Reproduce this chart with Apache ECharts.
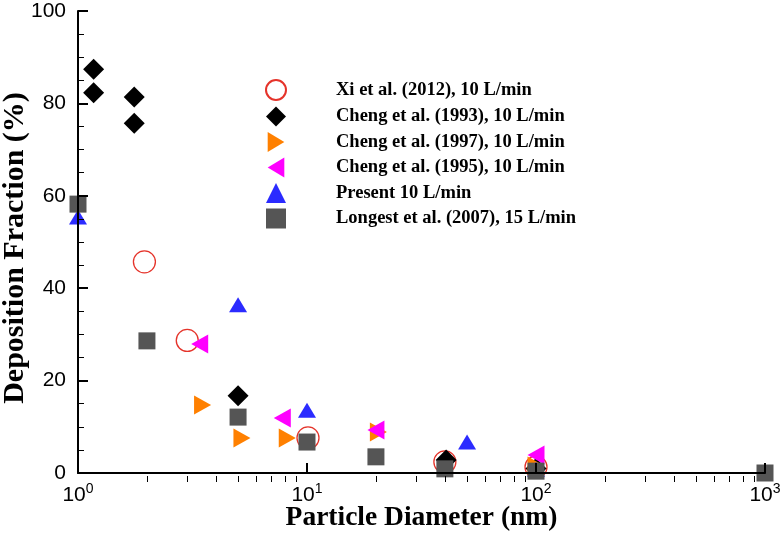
<!DOCTYPE html>
<html>
<head>
<meta charset="utf-8">
<script src="https://cdn.jsdelivr.net/npm/echarts@6/dist/echarts.min.js"></script>
<style>html,body{margin:0;padding:0;background:#fff;}#c{width:784px;height:534px;}</style>
</head>
<body>
<div id="c"></div>
<script>
// ---- data (particle diameter nm, deposition fraction %) ----
const xiX = [1.95, 3, 10.1, 40, 100];
const xiY = [45.7, 28.7, 7.6, 2.4, 1.3];
const cheng93X = [1.17, 1.17, 1.76, 1.76, 5, 40.5, 100];
const cheng93Y = [87.4, 82.3, 81.4, 75.7, 16.7, 2.8, 1.0];
const cheng97X = [3.5, 5.2, 8.2, 20.5, 100];
const cheng97Y = [14.7, 7.6, 7.6, 8.9, 1.5];
const cheng95X = [3.4, 7.8, 20, 100];
const cheng95Y = [27.9, 11.9, 9.3, 3.9];
const presentX = [1, 5, 10, 50, 100];
const presentY = [55.4, 36.4, 13.6, 6.7, 0.8];
const longestX = [1, 2, 5, 10, 20, 40, 100, 1000];
const longestY = [58.2, 28.6, 12.1, 6.7, 3.5, 0.9, 0.4, 0];

const seriesNames = [
  'Xi et al. (2012), 10 L/min',
  'Cheng et al. (1993), 10 L/min',
  'Cheng et al. (1997), 10 L/min',
  'Cheng et al. (1995), 10 L/min',
  'Present 10 L/min',
  'Longest et al. (2007), 15 L/min'
];
const xMinorTicks = [2,3,4,5,6,7,8,9,20,30,40,50,60,70,80,90,200,300,400,500,600,700,800,900];

const zip = (xs, ys) => xs.map((x, i) => [x, ys[i]]);

const serif = "'Liberation Serif','Times New Roman',serif";
const sans = "'Liberation Sans',Arial,sans-serif";

const chart = echarts.init(document.getElementById('c'), null, {renderer: 'canvas'});
chart.setOption({
  backgroundColor: '#fff',
  animation: false,
  grid: {left: 78, right: 19, top: 11, bottom: 61, containLabel: false, outerBoundsMode: 'none'},
  legend: {
    orient: 'vertical',
    left: 260, top: 74,
    itemWidth: 20, itemHeight: 20, itemGap: 5.5,
    textStyle: {fontFamily: serif, fontWeight: 'bold', fontSize: 18.5, color: '#000', padding: [0,0,0,45], lineHeight: 20},
    data: seriesNames
  },
  xAxis: [{
    type: 'log', logBase: 10, min: 1, max: 1000,
    position: 'bottom', offset: 9, z: 5,
    name: 'Particle Diameter (nm)', nameLocation: 'middle', nameGap: 22, nameMoveOverlap: false,
    nameTextStyle: {fontFamily: serif, fontWeight: 'bold', fontSize: 27.5, color: '#000'},
    axisLine: {show: true, lineStyle: {color: '#000', width: 2}},
    axisTick: {show: true, inside: true, length: 10, lineStyle: {color: '#000', width: 2}},
    splitLine: {show: false},
    axisLabel: {
      margin: 0, color: '#000', backgroundColor: '#fff', padding: [0, 1, 0, 1],
      formatter: v => '{b|10}{s|' + Math.round(Math.log10(v)) + '}',
      rich: {
        b: {fontFamily: sans, fontSize: 21, color: '#000', lineHeight: 24, verticalAlign: 'bottom'},
        s: {fontFamily: sans, fontSize: 14, color: '#000', lineHeight: 24, verticalAlign: 'top'}
      }
    }
  }, {
    type: 'log', logBase: 10, min: 1, max: 1000,
    position: 'bottom', offset: 9, z: 5,
    axisLine: {show: false},
    axisLabel: {show: false},
    splitLine: {show: false},
    axisTick: {show: true, inside: true, length: 6, customValues: xMinorTicks, lineStyle: {color: '#000', width: 1}}
  }],
  yAxis: {
    type: 'value', min: 0, max: 100, interval: 20, z: 5,
    name: 'Deposition Fraction (%)', nameLocation: 'middle', nameGap: 48, nameMoveOverlap: false,
    nameTextStyle: {fontFamily: serif, fontWeight: 'bold', fontSize: 30, color: '#000', padding: [0, 12, 0, 0]},
    axisLine: {show: true, lineStyle: {color: '#000', width: 2}},
    axisTick: {show: true, inside: true, length: 10, lineStyle: {color: '#000', width: 2}},
    minorTick: {show: true, splitNumber: 4, length: 6, lineStyle: {color: '#000', width: 1}},
    splitLine: {show: false},
    axisLabel: {fontFamily: sans, fontSize: 21, color: '#000', margin: 12}
  },
  series: [
    {name: seriesNames[0], type: 'scatter', clip: false, data: zip(xiX, xiY),
     symbol: 'circle', symbolSize: 22,
     itemStyle: {color: 'rgba(255,255,255,0)', borderColor: '#e5332a', borderWidth: 1.3, opacity: 1}},
    {name: seriesNames[1], type: 'scatter', clip: false, data: zip(cheng93X, cheng93Y),
     symbol: 'diamond', symbolSize: 21, itemStyle: {color: '#000', opacity: 1}},
    {name: seriesNames[2], type: 'scatter', clip: false, data: zip(cheng97X, cheng97Y),
     symbol: 'path://M0,0L10,6L0,12Z', symbolSize: [17, 19], itemStyle: {color: '#ff8000', opacity: 1}},
    {name: seriesNames[3], type: 'scatter', clip: false, data: zip(cheng95X, cheng95Y),
     symbol: 'path://M10,0L0,6L10,12Z', symbolSize: [17, 19], itemStyle: {color: '#ff00ff', opacity: 1}},
    {name: seriesNames[4], type: 'scatter', clip: false, data: zip(presentX, presentY),
     symbol: 'triangle', symbolSize: [18, 15], itemStyle: {color: '#2b2bff', opacity: 1}},
    {name: seriesNames[5], type: 'scatter', clip: false, data: zip(longestX, longestY),
     symbol: 'rect', symbolSize: 17, itemStyle: {color: '#555555', opacity: 1}}
  ]
});
</script>
</body>
</html>
